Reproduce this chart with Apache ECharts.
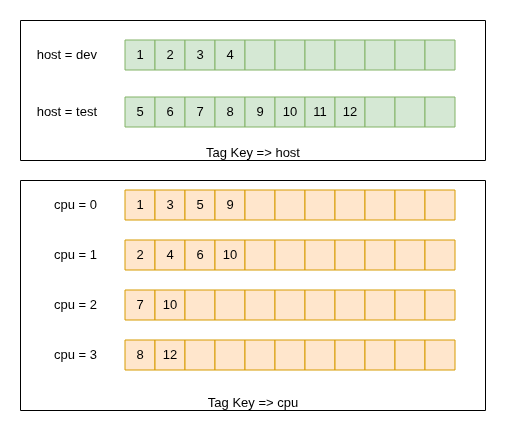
<!DOCTYPE html>
<html>
<head>
<meta charset="utf-8">
<script src="https://cdn.jsdelivr.net/npm/echarts@6/dist/echarts.min.js"></script>
<style>
  html, body { margin: 0; padding: 0; background: #fff; }
  #chart { width: 506px; height: 431px; }
</style>
</head>
<body>
<div id="chart"></div>
<script>
// slots per row
const slotCount = 11;

// host tag rows
const hostRows = ["host = dev", "host = test"];
const hostValues = [
  [1, 2, 3, 4],
  [5, 6, 7, 8, 9, 10, 11, 12]
];

// cpu tag rows
const cpuRows = ["cpu = 0", "cpu = 1", "cpu = 2", "cpu = 3"];
const cpuValues = [
  [1, 3, 5, 9],
  [2, 4, 6, 10],
  [7, 10],
  [8, 12]
];

const slots = Array.from({ length: slotCount }, (_, i) => String(i));
const font = "Liberation Sans, Helvetica, Arial, sans-serif";

// one item per slot: [slot, row], label kept alongside
const buildCells = (values) => {
  const out = [];
  values.forEach((row, r) => {
    for (let s = 0; s < slotCount; s++) {
      out.push({ value: [s, r], label: row[s] !== undefined ? String(row[s]) : "" });
    }
  });
  return out;
};

const cellSeries = (gridIndex, values, fill, stroke) => {
  const cells = buildCells(values);
  return {
    type: "custom",
    xAxisIndex: gridIndex,
    yAxisIndex: gridIndex,
    data: cells.map(c => c.value),
    renderItem: (params, api) => {
      const p = api.coord([api.value(0), api.value(1)]);
      const w = api.size([1, 0])[0];
      const h = 30;
      return {
        type: "rect",
        shape: { x: p[0] - w / 2, y: p[1] - h / 2, width: w, height: h },
        style: { fill: fill, stroke: stroke, lineWidth: 1 },
        textContent: {
          style: {
            text: cells[params.dataIndex].label, fill: "#000",
            fontSize: 13, fontFamily: font
          }
        },
        textConfig: { position: "inside" }
      };
    }
  };
};

const chart = echarts.init(document.getElementById("chart"));
chart.setOption({
  animation: false,
  backgroundColor: "#fff",
  grid: [
    { left: 125, width: 330, top: 26.5, height: 114 },
    { left: 125, width: 330, top: 180, height: 200 }
  ],
  xAxis: [0, 1].map(i => ({
    type: "category", data: slots, gridIndex: i, show: false
  })),
  yAxis: [
    { type: "category", data: hostRows, gridIndex: 0, inverse: true },
    { type: "category", data: cpuRows, gridIndex: 1, inverse: true }
  ].map(a => Object.assign(a, {
    axisLine: { show: false }, axisTick: { show: false },
    splitLine: { show: false },
    axisLabel: { color: "#000", fontSize: 13, fontFamily: font, margin: 28 }
  })),
  title: [
    { text: "Tag Key => host", left: "center", top: 142 },
    { text: "Tag Key => cpu", left: "center", top: 392 }
  ].map(t => Object.assign(t, {
    textStyle: { fontSize: 13, fontWeight: "normal", color: "#000", fontFamily: font }
  })),
  graphic: [
    { type: "rect", shape: { x: 20.5, y: 20.5, width: 465, height: 140 },
      style: { fill: "none", stroke: "#000", lineWidth: 1 } },
    { type: "rect", shape: { x: 20.5, y: 180.5, width: 465, height: 230 },
      style: { fill: "none", stroke: "#000", lineWidth: 1 } }
  ],
  series: [
    cellSeries(0, hostValues, "#d5e8d4", "#82b366"),
    cellSeries(1, cpuValues, "#ffe6cc", "#d79b00")
  ]
});
</script>
</body>
</html>
